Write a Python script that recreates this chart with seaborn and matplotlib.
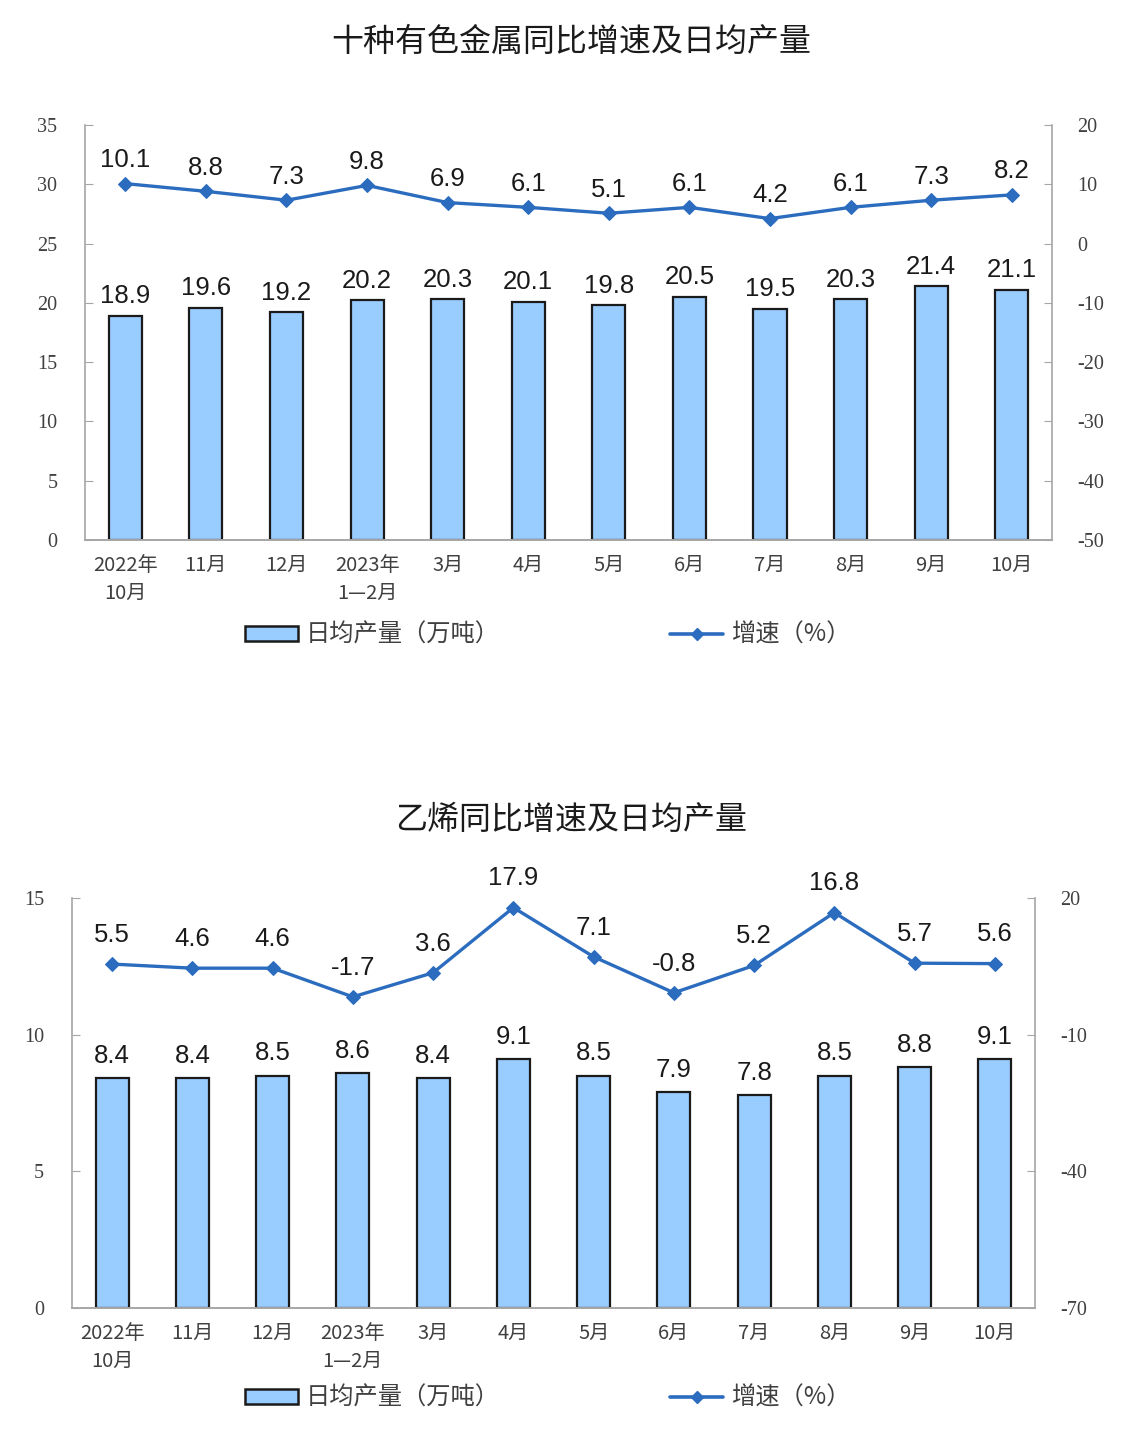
import matplotlib
matplotlib.use("Agg")
import matplotlib.pyplot as plt
from matplotlib.patches import Patch
from matplotlib.lines import Line2D
import numpy as np
import pandas as pd
import seaborn as sns

# data
months = ["2022年\n10月", "11月", "12月", "2023年\n1—2月", "3月", "4月",
          "5月", "6月", "7月", "8月", "9月", "10月"]
metal_output = [18.9, 19.6, 19.2, 20.2, 20.3, 20.1, 19.8, 20.5, 19.5, 20.3, 21.4, 21.1]
metal_growth = [10.1, 8.8, 7.3, 9.8, 6.9, 6.1, 5.1, 6.1, 4.2, 6.1, 7.3, 8.2]
ethylene_output = [8.4, 8.4, 8.5, 8.6, 8.4, 9.1, 8.5, 7.9, 7.8, 8.5, 8.8, 9.1]
ethylene_growth = [5.5, 4.6, 4.6, -1.7, 3.6, 17.9, 7.1, -0.8, 5.2, 16.8, 5.7, 5.6]

bar_color = "#99CCFF"
line_color = "#2B6CBF"
spine_color = "#A6A6A6"
tick_color = "#404040"
cjk = ["Noto Sans CJK SC", "DejaVu Sans"]
serif = ["Liberation Serif", "DejaVu Serif"]
sans = ["Liberation Sans", "DejaVu Sans"]

sns.set_style("white")
plt.rcParams['font.family'] = cjk
plt.rcParams['axes.unicode_minus'] = False

fig = plt.figure(figsize=(11.43, 14.41), dpi=100)


def draw_panel(rect, title, output, growth, ylim, ticks, ylim2, ticks2,
               bar_off, line_off, title_y, legend_y):
    ax = fig.add_axes(rect)
    df = pd.DataFrame({"month": months, "output": output, "growth": growth})
    sns.barplot(data=df, x="month", y="output", color=bar_color, width=0.41,
                edgecolor="#1A1A1A", linewidth=1.6, saturation=1, ax=ax)
    ax.set_xlim(-0.5, len(months) - 0.5)
    ax.set_ylim(*ylim)
    ax.set_yticks(ticks)
    ax.set_xlabel("")
    ax.set_ylabel("")
    for i, v in enumerate(output):
        ax.annotate(f"{v:.1f}", (i, v), xytext=(0, bar_off), textcoords="offset points",
                    ha="center", va="center", fontsize=18.5, family=sans, color="#1A1A1A")

    ax2 = ax.twinx()
    df["pos"] = np.arange(len(months))
    sns.lineplot(data=df, x="pos", y="growth", color=line_color, linewidth=2.4,
                 marker="D", markersize=7, markeredgecolor=line_color, ax=ax2)
    ax2.set_ylim(*ylim2)
    ax2.set_yticks(ticks2)
    ax2.set_ylabel("")
    ax2.set_xlabel("")
    for i, v in enumerate(growth):
        ax2.annotate(f"{v:.1f}", (i, v), xytext=(0, line_off), textcoords="offset points",
                     ha="center", va="center", fontsize=18.5, family=sans, color="#1A1A1A")

    for a in (ax, ax2):
        for s in a.spines.values():
            s.set_color(spine_color)
            s.set_linewidth(1.2)
        a.spines["top"].set_visible(False)
        a.tick_params(axis="y", direction="in", length=6, color=spine_color,
                      labelcolor=tick_color, labelsize=14.5, pad=20)
        for lab in a.get_yticklabels():
            lab.set_family(serif)
    ax.spines["right"].set_visible(False)
    ax2.spines["left"].set_visible(False)
    ax2.tick_params(axis="y", pad=18)

    ax.set_xticks(np.arange(len(months)))
    ax.set_xticklabels(months, fontsize=14.5, color=tick_color, linespacing=1.4)
    ax.tick_params(axis="x", length=0, pad=11)
    ax.set_xticks(np.arange(len(months) + 1) - 0.5, minor=True)
    ax.tick_params(axis="x", which="minor", direction="in", length=5, color=spine_color)

    fig.text(0.5, title_y, title, ha="center", va="center", fontsize=23,
             color="#1A1A1A", weight="medium")

    handles = [Patch(facecolor=bar_color, edgecolor="#1A1A1A", linewidth=1.8),
               Line2D([], [], color=line_color, linewidth=2.6, marker="D", markersize=6)]
    fig.legend(handles, ["日均产量（万吨）", "增速（%）"], loc="center",
               bbox_to_anchor=(0.479, legend_y), ncol=2, frameon=False, fontsize=17.5,
               handlelength=2.2, handleheight=0.55, columnspacing=7.0, handletextpad=0.3,
               labelcolor=tick_color)


draw_panel([0.0744, 0.6253, 0.846, 0.288], "十种有色金属同比增速及日均产量",
           metal_output, metal_growth, (0, 35), range(0, 36, 5),
           (-50, 20), range(-50, 21, 10), 14, 17, 1 - 42 / 1441, 1 - 635 / 1441)

draw_panel([0.063, 0.0923, 0.8425, 0.2845], "乙烯同比增速及日均产量",
           ethylene_output, ethylene_growth, (0, 15), range(0, 16, 5),
           (-70, 20), range(-70, 21, 30), 16, 21, 1 - 820 / 1441, 1 - 1398 / 1441)

fig.savefig("out.png", dpi=100, facecolor="white")
